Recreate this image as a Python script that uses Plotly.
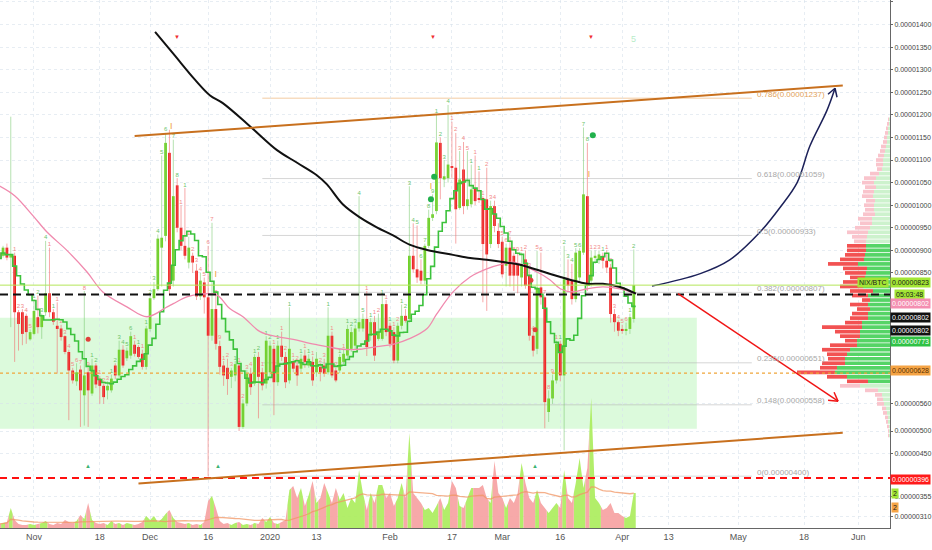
import numpy as np
import pandas as pd
import plotly.graph_objects as go

# ---------------- DATA (prices in satoshi = 1e-8 BTC) ----------------
first_day = "2019-10-23"
opens = [895, 888, 906, 884, 888, 763, 763, 755, 703, 715,
         752, 730, 763, 805, 763, 733, 727, 710, 675, 634,
         610, 636, 579, 630, 583, 645, 616, 600, 590, 590,
         645, 623, 680, 661, 667, 691, 686, 671, 642, 726,
         794, 814, 906, 932, 1116, 833, 1044, 950, 910, 873,
         888, 855, 798, 829, 796, 711, 770, 688, 645, 640,
         620, 623, 645, 509, 561, 627, 605, 664, 630, 605,
         630, 682, 608, 689, 664, 612, 653, 645, 638, 667,
         645, 653, 630, 642, 645, 630, 711, 634, 634, 653,
         667, 682, 689, 727, 727, 748, 711, 741, 704, 704,
         781, 733, 719, 656, 733, 755, 748, 888, 858, 855,
         833, 910, 972, 987, 1138, 1057, 1060, 1086, 1083, 994,
         1079, 998, 1002, 1036, 1016, 1016, 1013, 914, 998, 943,
         919, 866, 906, 888, 869, 840, 880, 844, 711, 682,
         818, 796, 542, 572, 612, 693, 623, 836, 833, 792,
         840, 895, 1020, 833, 884, 880, 888, 877, 862, 759,
         741, 726, 722, 726, 748]
highs = [900, 910, 915, 1196, 895, 768, 770, 760, 725, 792,
         800, 760, 921, 906, 770, 785, 735, 712, 680, 640,
         650, 645, 810, 640, 660, 650, 622, 605, 610, 625,
         650, 700, 690, 685, 720, 700, 690, 680, 733, 800,
         830, 935, 1110, 1160, 1167, 1145, 1060, 1000, 1038, 930,
         895, 870, 850, 840, 910, 961, 800, 700, 655, 660,
         640, 655, 650, 570, 635, 640, 670, 675, 640, 710,
         700, 690, 700, 720, 675, 774, 660, 655, 670, 680,
         670, 665, 675, 650, 660, 774, 720, 640, 670, 680,
         735, 730, 735, 1020, 760, 810, 750, 755, 760, 800,
         790, 740, 730, 740, 780, 770, 1042, 960, 955, 880,
         915, 990, 1024, 1200, 1150, 1100, 1222, 1185, 1160, 1120,
         1140, 1120, 1090, 1110, 1075, 1020, 1083, 1010, 1010, 960,
         930, 915, 930, 895, 895, 895, 900, 860, 720, 899,
         895, 800, 590, 625, 700, 700, 910, 880, 870, 905,
         905, 1172, 1138, 900, 900, 900, 895, 900, 870, 770,
         745, 735, 740, 760, 902]
lows = [878, 884, 878, 730, 653, 678, 690, 693, 700, 712,
        716, 704, 755, 752, 735, 627, 700, 670, 524, 605,
        600, 509, 512, 509, 578, 595, 560, 560, 570, 585,
        615, 618, 640, 655, 660, 665, 660, 636, 636, 720,
        790, 810, 820, 920, 800, 820, 940, 900, 880, 860,
        850, 790, 790, 760, 400, 700, 680, 625, 600, 580,
        595, 610, 500, 505, 555, 580, 600, 528, 590, 594,
        620, 535, 600, 655, 595, 605, 630, 600, 630, 640,
        640, 600, 620, 610, 620, 625, 618, 608, 628, 648,
        660, 675, 680, 720, 720, 666, 700, 655, 700, 700,
        710, 685, 650, 650, 725, 740, 740, 850, 828, 825,
        825, 905, 965, 980, 1013, 1040, 1050, 1060, 915, 990,
        980, 990, 995, 1000, 1005, 785, 766, 905, 940, 905,
        840, 820, 820, 810, 805, 820, 815, 700, 665, 670,
        780, 506, 520, 560, 605, 610, 457, 810, 780, 785,
        830, 890, 810, 820, 870, 870, 860, 850, 740, 720,
        710, 715, 712, 715, 740]
closes = [882, 906, 884, 891, 763, 737, 715, 719, 719, 766,
          730, 757, 805, 763, 742, 726, 708, 675, 634, 612,
          630, 590, 623, 590, 645, 603, 600, 575, 600, 616,
          623, 680, 645, 678, 710, 671, 664, 642, 727, 794,
          814, 926, 928, 1138, 814, 1020, 950, 910, 888, 906,
          873, 798, 833, 796, 711, 770, 693, 642, 623, 615,
          634, 648, 509, 561, 627, 597, 664, 620, 601, 700,
          689, 608, 689, 664, 608, 682, 638, 623, 660, 653,
          660, 612, 660, 630, 627, 711, 623, 612, 664, 671,
          726, 719, 727, 741, 748, 686, 741, 667, 719, 781,
          719, 693, 656, 733, 755, 744, 888, 858, 840, 833,
          910, 972, 980, 1139, 1060, 1064, 1090, 1083, 991, 1057,
          998, 1013, 1035, 1009, 1013, 914, 891, 998, 954, 914,
          847, 906, 844, 844, 844, 869, 822, 711, 678, 818,
          796, 564, 572, 612, 693, 623, 836, 822, 792, 895,
          899, 1024, 822, 884, 888, 891, 877, 862, 759, 741,
          722, 722, 726, 752, 823]
volumes = [4, 5, 6, 20, 8, 4, 3, 3, 4, 3,
           4, 5, 7, 4, 3, 5, 4, 8, 6, 5,
           7, 13, 9, 25, 8, 5, 4, 5, 3, 7,
           4, 5, 3, 5, 4, 3, 4, 6, 12, 8,
           12, 6, 9, 14, 18, 10, 6, 5, 4, 5,
           3, 4, 3, 6, 27, 32, 20, 7, 4, 5,
           3, 5, 6, 3, 4, 3, 5, 4, 10, 6,
           11, 5, 4, 6, 8, 38, 42, 30, 40, 22,
           33, 47, 25, 30, 45, 35, 25, 40, 28, 35,
           20, 30, 25, 58, 35, 18, 35, 25, 43, 43,
           30, 35, 22, 30, 45, 30, 95, 35, 30, 25,
           18, 20, 15, 22, 30, 18, 25, 47, 40, 22,
           20, 30, 40, 40, 40, 43, 30, 25, 67, 35,
           30, 20, 30, 25, 35, 65, 45, 30, 25, 38,
           25, 20, 15, 20, 25, 20, 58, 30, 25, 45,
           70, 40, 60, 130, 30, 25, 18, 20, 25, 15,
           15, 12, 10, 12, 35]

# pink moving average
pink_dates = ["2019-10-23", "2019-10-27", "2019-10-31 17:00", "2019-11-04 10:00", "2019-11-09 12:00",
              "2019-11-14 17:00", "2019-11-18 19:00", "2019-11-25", "2019-11-30 05:00", "2019-12-05 10:00",
              "2019-12-07", "2019-12-10 12:00", "2019-12-13 22:00", "2019-12-18 07:00", "2019-12-21 14:00",
              "2019-12-25", "2019-12-29 10:00", "2020-01-02 19:00", "2020-01-07", "2020-01-11 07:00",
              "2020-01-15 17:00", "2020-01-19 19:00", "2020-01-24 05:00", "2020-01-28 14:00", "2020-02-01 19:00",
              "2020-02-06 05:00", "2020-02-10 14:00", "2020-02-13", "2020-02-17 07:00", "2020-02-21 17:00",
              "2020-02-26", "2020-03-01 05:00", "2020-03-03 19:00", "2020-03-10", "2020-03-13 07:00",
              "2020-03-16", "2020-03-19 07:00", "2020-03-23", "2020-03-27", "2020-03-31 10:00", "2020-04-04 14:00"]
pink_vals = [1043, 1021, 977, 940, 900, 852, 808, 775, 753, 775,
             782, 797, 803, 801, 771, 753, 720, 709, 703, 694,
             687, 681, 681, 687, 692, 705, 727, 758, 808, 841,
             859, 870, 874, 852, 835, 815, 808, 815, 819, 815, 804]

# black long moving average
black_dates = ["2019-12-02 07:00", "2019-12-07 10:00", "2019-12-12 14:00", "2019-12-16 12:00", "2019-12-19 19:00",
               "2019-12-26 19:00", "2020-01-02 19:00", "2020-01-08", "2020-01-13", "2020-01-15 17:00",
               "2020-01-19 19:00", "2020-01-24 05:00", "2020-01-28 14:00", "2020-02-01 19:00", "2020-02-06 05:00",
               "2020-02-10 14:00", "2020-02-17 07:00", "2020-02-21 17:00", "2020-02-26", "2020-03-01 05:00",
               "2020-03-05 14:00", "2020-03-10", "2020-03-14 02:00", "2020-03-18 12:00", "2020-03-22 22:00",
               "2020-03-27", "2020-03-31 10:00", "2020-04-04 14:00"]
black_vals = [1384, 1331, 1278, 1243, 1226, 1175, 1122, 1094, 1067, 1046,
              1002, 973, 951, 933, 912, 901, 890, 883, 879, 874,
              868, 857, 846, 835, 826, 826, 819, 804]

# volume profile (rows of 10 sat)
vp_levels = [1190, 1180, 1170, 1160, 1150, 1140, 1130, 1120, 1110, 1100,
             1090, 1080, 1070, 1060, 1050, 1040, 1030, 1020, 1010, 1000,
             990, 980, 970, 960, 950, 940, 930, 920, 910, 900,
             890, 880, 870, 860, 850, 840, 830, 820, 810, 800,
             790, 780, 770, 760, 750, 740, 730, 720, 710, 700,
             690, 680, 670, 660, 650, 640, 630, 620, 610, 600,
             590, 580, 570, 560, 550, 540, 530, 520, 510, 500, 490]
vp_total = [2, 3, 4, 5, 6, 7, 9, 10, 12, 14,
            14, 13, 20, 26, 28, 25, 27, 28, 24, 26,
            25, 27, 32, 30, 35, 43, 38, 36, 43, 43,
            45, 50, 62, 47, 45, 40, 47, 50, 40, 38,
            28, 40, 33, 38, 40, 45, 68, 55, 50, 45,
            60, 68, 63, 62, 68, 70, 93, 63, 43, 50,
            25, 15, 13, 13, 8, 7, 5, 4, 3, 2, 2]
vp_up = [1, 1, 2, 2, 3, 3, 4, 5, 6, 7,
         7, 8, 11, 14, 16, 14, 16, 17, 15, 16,
         16, 15, 18, 18, 20, 22, 23, 24, 24, 24,
         25, 26, 32, 23, 24, 25, 27, 27, 17, 22,
         20, 22, 20, 22, 22, 28, 28, 30, 30, 33,
         33, 40, 43, 45, 45, 53, 55, 43, 22, 30,
         12, 8, 7, 6, 4, 3, 2, 2, 1, 1, 1]
va_low, va_high = 610, 910

# fibonacci levels
fib_ratios = ["0.786", "0.618", "0.5", "0.382", "0.236", "0.148", "0"]
fib_prices = [1237, 1059, 933, 807, 651, 558, 400]

# key horizontal levels
last_price = 823
ma_level = 802
step_level = 773
poc_level = 628
support_level = 396

# signals
sell_dates = ["2019-12-08", "2020-02-12", "2020-03-24"]
buy_dates = ["2019-11-15", "2019-12-18 12:00", "2020-03-09 12:00"]
red_dot_dates = ["2019-11-15", "2020-03-08 10:00", "2020-03-09 12:00"]
red_dot_vals = [703, 834, 724]
green_dot_dates = ["2020-02-11 14:00", "2020-02-12 10:00", "2020-03-24 10:00"]
green_dot_vals = [1013, 1063, 1155]
orange_i_dates = ["2019-12-18", "2020-02-11 14:00", "2020-03-23 10:00", "2019-12-06 12:00"]
orange_i_vals = [845, 1041, 1067, 1174]

# x tick labels
tick_dates = ["2019-11-01", "2019-11-18", "2019-12-01", "2019-12-16", "2020-01-01", "2020-01-13",
              "2020-02-01", "2020-02-17", "2020-03-01", "2020-03-16", "2020-04-01", "2020-04-13",
              "2020-05-01", "2020-05-18", "2020-06-01"]
tick_text = ["Nov", "18", "Dec", "16", "2020", "13", "Feb", "17", "Mar", "16", "Apr", "13", "May", "18", "Jun"]
price_ticks = [310, 355, 450, 500, 560, 850, 900, 950, 1000, 1050, 1100, 1150, 1200, 1250, 1300, 1350, 1400, 1450]

# ---------------- BUILD ----------------
dates = pd.date_range(first_day, periods=len(closes), freq="D")
o = np.array(opens, float); h = np.array(highs, float)
l = np.array(lows, float); c = np.array(closes, float)
v = np.array(volumes, float)
up = c >= o
half = pd.Timedelta(hours=12)
DAY_MS = 86400000

X_RANGE = ["2019-10-23 05:10", "2020-06-09 05:00"]
Y_RANGE = [285.2, 1454.4]
PLOT_H = 528.0
FONT = "Liberation Sans, Arial"

GREEN = "#72d41e"
RED = "#ee1c1c"

fig = go.Figure()

# wicks
for mask, col in [(up, "rgba(120,200,110,0.55)"), (~up, "rgba(240,110,110,0.6)")]:
    xs, ys = [], []
    for i in np.where(mask)[0]:
        xs += [dates[i], dates[i], None]
        ys += [l[i], h[i], None]
    fig.add_trace(go.Scatter(x=xs, y=ys, mode="lines", line=dict(color=col, width=1),
                             hoverinfo="skip", showlegend=False))

# bodies
for mask, col in [(up, GREEN), (~up, RED)]:
    idx = np.where(mask)[0]
    base = np.minimum(o[idx], c[idx])
    hgt = np.maximum(np.abs(c[idx] - o[idx]), 2.0)
    fig.add_trace(go.Bar(x=dates[idx], y=hgt, base=base, width=0.7 * DAY_MS,
                         marker=dict(color=col, line=dict(width=0)), showlegend=False, hoverinfo="skip"))

# TD-style setup counts (derived from closes) shown above each candle
up_cnt, dn_cnt = 0, 0
td_x, td_y, td_t, td_c = [], [], [], []
for i in range(len(c)):
    if i >= 4 and c[i] > c[i - 4]:
        up_cnt = up_cnt % 9 + 1; dn_cnt = 0
        td_x.append(dates[i]); td_y.append(h[i]); td_t.append(str(up_cnt)); td_c.append("#6cc46c")
    elif i >= 4 and c[i] < c[i - 4]:
        dn_cnt = dn_cnt % 9 + 1; up_cnt = 0
        td_x.append(dates[i]); td_y.append(h[i]); td_t.append(str(dn_cnt)); td_c.append("#f28a8a")
fig.add_trace(go.Scatter(x=td_x, y=td_y, mode="text", text=td_t, textposition="top center",
                         textfont=dict(size=6, color=td_c, family=FONT), hoverinfo="skip", showlegend=False))

# step line (9-period SMA of closes, drawn as step)
sma9 = pd.Series(c).rolling(9, min_periods=1).mean().values
sx = list(dates - half) + [dates[-1] + half]
sy = list(sma9) + [sma9[-1]]
fig.add_trace(go.Scatter(x=sx, y=sy, mode="lines", line=dict(color="#3cc23c", width=1.6, shape="hv"),
                         hoverinfo="skip", showlegend=False))

# pink MA
fig.add_trace(go.Scatter(x=pink_dates, y=pink_vals, mode="lines",
                         line=dict(color="#f08aae", width=1.3, shape="spline"), hoverinfo="skip", showlegend=False))
# black MA
fig.add_trace(go.Scatter(x=black_dates, y=black_vals, mode="lines",
                         line=dict(color="#111111", width=2, shape="spline"), hoverinfo="skip", showlegend=False))

# signal dots
fig.add_trace(go.Scatter(x=red_dot_dates, y=red_dot_vals, mode="markers",
                         marker=dict(color="#e0403a", size=5), hoverinfo="skip", showlegend=False))
fig.add_trace(go.Scatter(x=green_dot_dates, y=green_dot_vals, mode="markers",
                         marker=dict(color="#22b14c", size=6), hoverinfo="skip", showlegend=False))
fig.add_trace(go.Scatter(x=orange_i_dates, y=orange_i_vals, mode="text", text=["I"] * len(orange_i_vals),
                         textfont=dict(color="#f0a040", size=9), hoverinfo="skip", showlegend=False))

# navy curved arrow (drawing)
navy_x = ["2020-04-08 17:00", "2020-04-21", "2020-04-28 19:00", "2020-05-06 14:00", "2020-05-11 19:00",
          "2020-05-16 05:00", "2020-05-19 12:00", "2020-05-23 22:00", "2020-05-26"]
navy_y = [821, 848, 879, 940, 995, 1050, 1131, 1210, 1259]
fig.add_trace(go.Scatter(x=navy_x, y=navy_y, mode="lines", line=dict(color="#1c2159", width=1.5, shape="spline"),
                         hoverinfo="skip", showlegend=False))

# volume (mountain, coloured per day) on overlay axis
vprev = np.r_[v[0], v[:-1]]
vnext = np.r_[v[1:], v[-1]]
for mask, col in [(up, "rgba(170,236,90,0.9)"), (~up, "rgba(246,160,160,0.9)")]:
    xs, ys = [], []
    for i in np.where(mask)[0]:
        xs += [dates[i] - half, dates[i] - half, dates[i], dates[i] + half, dates[i] + half, None]
        ys += [0, (vprev[i] + v[i]) / 2, v[i], (v[i] + vnext[i]) / 2, 0, None]
    fig.add_trace(go.Scatter(x=xs, y=ys, mode="lines", fill="toself", fillcolor=col,
                             line=dict(width=0, color=col), yaxis="y2", hoverinfo="skip", showlegend=False))
vma = pd.Series(v).rolling(20, min_periods=1).mean().values
fig.add_trace(go.Scatter(x=dates, y=vma, mode="lines", line=dict(color="rgba(240,150,100,0.75)", width=1.3),
                         yaxis="y2", hoverinfo="skip", showlegend=False))

# volume profile on overlay x axis (px-like units from right edge)
lv = np.array(vp_levels, float)
tot = np.array(vp_total, float)
upv = np.array(vp_up, float)
in_va = (lv >= va_low) & (lv <= va_high)
fig.add_trace(go.Bar(y=lv, x=upv, base=0, orientation="h", width=8.2, xaxis="x2",
                     marker=dict(color=np.where(in_va, "#55d466", "#cdf2cd").tolist(), line=dict(width=0)),
                     hoverinfo="skip", showlegend=False))
fig.add_trace(go.Bar(y=lv, x=tot - upv, base=upv, orientation="h", width=8.2, xaxis="x2",
                     marker=dict(color=np.where(in_va, "#f25252", "#f9c4cc").tolist(), line=dict(width=0)),
                     hoverinfo="skip", showlegend=False))

# ---------------- SHAPES ----------------
shapes = []
shapes.append(dict(type="rect", xref="x", yref="y", x0=X_RANGE[0], x1="2020-04-20 07:00", y0=505, y1=751,
                   fillcolor="rgba(150,240,150,0.33)", line=dict(width=0), layer="below"))
fib_x0, fib_x1 = "2019-12-30", "2020-05-04 12:00"
for r, p in zip(fib_ratios, fib_prices):
    col = "rgba(235,170,100,0.6)" if r == "0.786" else "rgba(180,180,180,0.55)"
    shapes.append(dict(type="line", xref="x", yref="y", x0=fib_x0, x1=fib_x1, y0=p, y1=p,
                       line=dict(color=col, width=1), layer="below"))
shapes.append(dict(type="line", xref="paper", yref="y", x0=0, x1=1, y0=last_price, y1=last_price,
                   line=dict(color="#b4e65a", width=1)))
shapes.append(dict(type="line", xref="paper", yref="y", x0=0, x1=1, y0=poc_level, y1=poc_level,
                   line=dict(color="#f0a53a", width=1.3, dash="3px,3px")))
shapes.append(dict(type="line", xref="paper", yref="y", x0=0, x1=1, y0=ma_level, y1=ma_level,
                   line=dict(color="#111111", width=2, dash="8px,5px")))
shapes.append(dict(type="line", xref="paper", yref="y", x0=0, x1=1, y0=support_level, y1=support_level,
                   line=dict(color="#ff1010", width=2, dash="7px,5px")))
shapes.append(dict(type="line", xref="x", yref="y", x0="2019-11-27", y0=1153, x1="2020-05-28", y1=1265,
                   line=dict(color="#c8701e", width=2)))
shapes.append(dict(type="line", xref="x", yref="y", x0="2019-11-28", y0=384, x1="2020-05-28", y1=496,
                   line=dict(color="#c8701e", width=2)))
red_tip = ("2020-05-26 19:00", 566)
shapes.append(dict(type="line", xref="x", yref="y", x0="2020-04-15 10:00", y0=804, x1=red_tip[0], y1=red_tip[1],
                   line=dict(color="#f01515", width=1.5)))
for ax_, ay_ in [(-10, 1), (-4, 9)]:
    shapes.append(dict(type="line", xref="x", yref="y", xsizemode="pixel", ysizemode="pixel",
                       xanchor=red_tip[0], yanchor=red_tip[1], x0=0, y0=0, x1=ax_, y1=ay_,
                       line=dict(color="#f01515", width=1.5)))
navy_tip = (navy_x[-1], navy_y[-1])
for ax_, ay_ in [(2, -9), (-7, -6)]:
    shapes.append(dict(type="line", xref="x", yref="y", xsizemode="pixel", ysizemode="pixel",
                       xanchor=navy_tip[0], yanchor=navy_tip[1], x0=0, y0=0, x1=ax_, y1=ay_,
                       line=dict(color="#1c2159", width=1.5)))

# ---------------- ANNOTATIONS ----------------
ann = []
for r, p in zip(fib_ratios, fib_prices):
    col = "#e3a35a" if r == "0.786" else "#a8a8a8"
    ann.append(dict(x=fib_x1, y=p, xref="x", yref="y", text=f"{r}({p*1e-8:.8f})", showarrow=False,
                    xanchor="left", yanchor="middle", xshift=3, yshift=4,
                    font=dict(size=8, color=col, family=FONT)))
for d in sell_dates:
    ann.append(dict(x=d, y=1 - 32 / PLOT_H, xref="x", yref="paper", text="▼", showarrow=False,
                    font=dict(size=6, color="#f03030")))
for d in buy_dates:
    ann.append(dict(x=d, y=1 - 471 / PLOT_H, xref="x", yref="paper", text="▲", showarrow=False,
                    font=dict(size=6, color="#3cb371")))
ann.append(dict(x="2020-04-04", y=1 - 32 / PLOT_H, xref="x", yref="paper", text="5", showarrow=False,
                font=dict(size=9, color="#b8ecc8")))


def side_label(ypx, text, bg, fg, anchor="left", xshift=0):
    ann.append(dict(x=1.0, y=1 - ypx / PLOT_H, xref="paper", yref="paper", text=text, showarrow=False,
                    xanchor=anchor, yanchor="middle", xshift=xshift, bgcolor=bg, borderpad=1,
                    font=dict(size=7, color=fg, family=FONT)))


side_label(282, f"{last_price*1e-8:.8f}", "#a3e635", "#1a1a1a", xshift=0)
side_label(282, "NIX/BTC", "#a3e635", "#1a1a1a", anchor="right", xshift=-1)
side_label(294, "05:03:48", "#a3e635", "#1a1a1a", xshift=4)
side_label(303, f"{ma_level*1e-8:.8f}", "#f48fb1", "#ffffff")
side_label(317, f"{ma_level*1e-8:.8f}", "#111111", "#ffffff")
side_label(330, f"{ma_level*1e-8:.8f}", "#111111", "#ffffff")
side_label(341, f"{step_level*1e-8:.8f}", "#2fc245", "#ffffff")
side_label(370, f"{poc_level*1e-8:.8f}", "#f5a445", "#5a3000")
side_label(479, f"{support_level*1e-8:.8f}", "#ff1a1a", "#ffffff")
side_label(493, "2", "#a3e635", "#1a1a1a", xshift=1)
side_label(507, "2", "#f5a445", "#1a1a1a", xshift=1)

fig.update_layout(
    width=932, height=550, margin=dict(l=0, r=42, t=0, b=22, autoexpand=False),
    paper_bgcolor="white", plot_bgcolor="white", barmode="overlay", showlegend=False,
    font=dict(family=FONT, size=9, color="#444"),
    xaxis=dict(type="date", range=X_RANGE, tickvals=tick_dates, ticktext=tick_text, automargin=False,
               showgrid=True, gridcolor="rgba(215,225,235,0.6)", griddash="dot",
               showline=True, linecolor="#666", linewidth=1, ticks="", tickfont=dict(size=9, color="#555"),
               zeroline=False, fixedrange=True),
    yaxis=dict(range=Y_RANGE, side="right", tickvals=price_ticks, automargin=False,
               ticktext=[f"{p*1e-8:.8f}" for p in price_ticks],
               ticks="outside", ticklen=2, tickcolor="#666", showline=True, linecolor="#666",
               showgrid=True, gridcolor="rgba(215,225,235,0.6)", griddash="dot",
               zeroline=False, tickfont=dict(size=7, color="#444")),
    yaxis2=dict(overlaying="y", range=[0, PLOT_H], visible=False, fixedrange=True, automargin=False),
    xaxis2=dict(overlaying="x", anchor="y", range=[890, 0], visible=False, automargin=False),
    shapes=shapes, annotations=ann,
)

fig.write_html("out.html", config={"displayModeBar": False},
               post_script="document.body.style.margin='0px';document.body.style.overflow='hidden';")
